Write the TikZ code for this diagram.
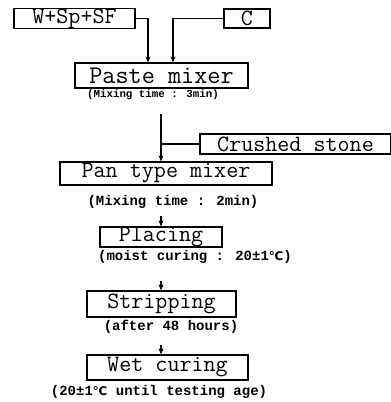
\documentclass[tikz,border=0pt]{standalone}
\usepackage{fontspec}
\newfontfamily\notefont{Liberation Mono}
\newfontfamily\degfont{DejaVu Sans}
\usepackage{tikz}
\usetikzlibrary{arrows.meta, positioning}
\newcommand{\degC}{{\degfont\fontsize{12}{12}\selectfont ℃}}

\begin{document}
\begin{tikzpicture}[x=1pt, y=1pt,
  stage/.style={rectangle, draw=black, line width=1.2pt, inner sep=0pt, font=\ttfamily\fontsize{23.4}{24}\selectfont},
  note/.style={inner sep=0pt, font=\notefont\bfseries\fontsize{14}{15}\selectfont},
  line/.style={draw=black, line width=1.2pt, -{Stealth[length=6pt, width=5pt]}}]
  \useasboundingbox (0,0) rectangle (391,-402);

  % materials
  \node [stage, minimum width=121pt, minimum height=19pt] (wsp) at (74.5,-18.5) {W+Sp+SF};
  \node [stage, minimum width=46pt, minimum height=19pt] (cem) at (247,-18.5) {C};

  % paste mixing
  \node [stage, minimum width=173pt, minimum height=25pt, font=\ttfamily\fontsize{25.5}{26}\selectfont] (paste) at (161.5,-75.5) {Paste mixer};
  \node [note, font=\notefont\bfseries\fontsize{10.8}{12}\selectfont] (pastenote) at (153,-95) {(Mixing time : 3min)};

  \node [stage, minimum width=191pt, minimum height=20pt] (stone) at (295.5,-144) {Crushed stone};

  % pan mixing
  \node [stage, minimum width=212pt, minimum height=23pt] (pan) at (166,-173.5) {Pan type mixer};
  \node [note] (pannote) at (173,-202) {(Mixing time : 2min)};

  \node [stage, minimum width=122pt, minimum height=20pt] (placing) at (161,-237) {Placing};
  \node [note] (placingnote) at (195,-257) {(moist curing : 20±1\degC)};

  \node [stage, minimum width=149pt, minimum height=26pt] (strip) at (161.5,-304) {Stripping};
  \node [note] (stripnote) at (171,-327) {(after 48 hours)};

  \node [stage, minimum width=161pt, minimum height=25pt] (wet) at (167.5,-367.5) {Wet curing};
  \node [note] (wetnote) at (159,-392) {(20±1\degC{} until testing age)};

  \coordinate (mixtop) at (161,-114);
  \coordinate (toplacing) at (161,-216);
  \coordinate (tostrip) at (161,-281);
  \coordinate (towet) at (161,-345);

  \draw [line] (wsp.east) -| ([xshift=-13.5pt]paste.north);
  \draw [line] (cem.west) -| ([xshift=11.5pt]paste.north);
  \draw [line] (mixtop) -- (mixtop |- pan.north);
  \draw [line width=1.2pt] (stone.west) -- (stone.west -| mixtop);
  \draw [line] (toplacing) -- (toplacing |- placing.north);
  \draw [line] (tostrip) -- (tostrip |- strip.north);
  \draw [line] (towet) -- (towet |- wet.north);

\end{tikzpicture}
\end{document}
